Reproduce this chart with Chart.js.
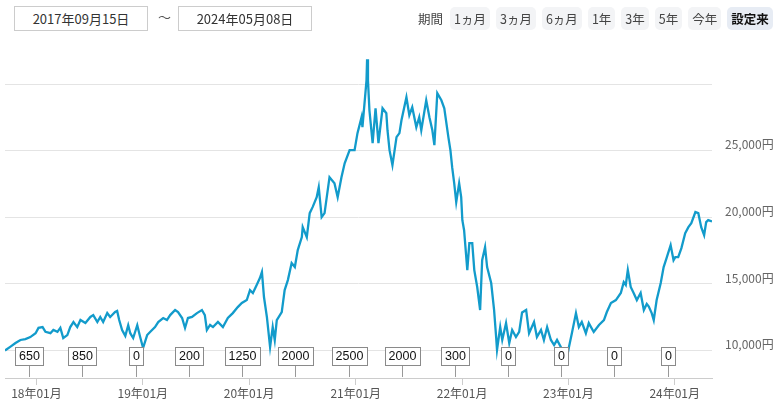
<!DOCTYPE html>
<html lang="ja">
<head>
<meta charset="utf-8">
<script src="https://cdn.jsdelivr.net/npm/chart.js@4.4.1/dist/chart.umd.min.js"></script>
<style>
  body { margin: 0; background: #fff; font-family: "Noto Sans CJK JP", "Noto Sans", sans-serif; }
  #wrap { position: relative; width: 782px; height: 403px; overflow: hidden; }
  #grafico { position: absolute; left: 0; top: 0; }
  .caixa {
    position: absolute; top: 6px; height: 23px; width: 132px;
    border: 1px solid #ccc; color: #333; font-size: 13px;
    line-height: 23px; text-align: center; background: #fff;
  }
  .til { position: absolute; left: 158px; top: 7px; font-size: 13px; color: #555; }
  #periodos {
    position: absolute; left: 418px; top: 7px; height: 23px; white-space: nowrap;
    display: flex; align-items: center; gap: 6px; font-size: 12.5px; color: #444;
  }
  #periodos span {
    flex: 0 0 auto; white-space: nowrap; height: 23px; line-height: 23px;
    padding: 0 4px; border-radius: 5px; background: #f3f4f6;
  }
  #periodos span.rotulo { background: none; padding: 0; margin-right: 1px; }
  #periodos span.ativo { background: #e7ecf4; font-weight: bold; color: #111; }
</style>
</head>
<body>
<div id="wrap">
  <canvas id="grafico" width="782" height="403"></canvas>
  <div class="caixa" style="left:14px">2017年09月15日</div>
  <div class="til">～</div>
  <div class="caixa" style="left:178px">2024年05月08日</div>
  <div id="periodos">
    <span class="rotulo">期間</span>
    <span>1ヵ月</span><span>3ヵ月</span><span>6ヵ月</span>
    <span>1年</span><span>3年</span><span>5年</span><span>今年</span>
    <span class="ativo">設定来</span>
  </div>
</div>
<script>
// 基準価額 (datas e valores)
const datas = [
  "2017-09-15","2017-10-04","2017-10-21","2017-11-07","2017-11-24","2017-12-11","2017-12-29",
  "2018-01-08","2018-01-22","2018-02-01","2018-02-18","2018-02-28","2018-03-14","2018-03-24",
  "2018-04-03","2018-04-17","2018-04-27","2018-05-08","2018-05-21","2018-06-01","2018-06-18",
  "2018-07-05","2018-07-15","2018-07-29","2018-08-08","2018-08-18","2018-09-01","2018-09-11",
  "2018-09-28","2018-10-05","2018-10-12","2018-10-22","2018-11-02","2018-11-12","2018-11-19",
  "2018-11-29","2018-12-13","2018-12-23","2019-01-02","2019-01-16","2019-01-26","2019-02-12",
  "2019-02-23","2019-03-12","2019-03-25","2019-04-05","2019-04-22","2019-05-02","2019-05-16",
  "2019-05-26","2019-06-05","2019-06-19","2019-07-06","2019-07-23","2019-08-02","2019-08-09",
  "2019-08-20","2019-08-30","2019-09-16","2019-10-03","2019-10-20","2019-11-06","2019-11-23",
  "2019-12-07","2019-12-24","2020-01-04","2020-01-14","2020-01-27","2020-02-07","2020-02-14",
  "2020-02-21","2020-03-02","2020-03-13","2020-03-22","2020-03-29","2020-04-05","2020-04-22",
  "2020-05-02","2020-05-13","2020-05-26","2020-06-06","2020-06-16","2020-06-30","2020-07-03",
  "2020-07-17","2020-07-27","2020-08-06","2020-08-20","2020-08-27","2020-09-06","2020-09-16",
  "2020-10-03","2020-10-20","2020-10-31","2020-11-13","2020-11-24","2020-12-11","2020-12-28",
  "2021-01-07","2021-01-21","2021-01-24","2021-02-07","2021-02-09","2021-02-12","2021-02-17",
  "2021-02-28","2021-03-10","2021-03-20","2021-04-03","2021-04-16","2021-04-20","2021-04-27",
  "2021-05-07","2021-05-21","2021-05-31","2021-06-07","2021-06-24","2021-07-04","2021-07-14",
  "2021-07-28","2021-08-07","2021-08-14","2021-08-31","2021-09-11","2021-09-21","2021-09-28",
  "2021-10-08","2021-10-22","2021-11-01","2021-11-15","2021-11-22","2021-11-28","2021-12-05",
  "2021-12-12","2021-12-22","2021-12-29","2022-01-02","2022-01-08","2022-01-19","2022-01-26",
  "2022-02-05","2022-02-12","2022-02-22","2022-03-04","2022-03-11","2022-03-21","2022-03-28",
  "2022-04-11","2022-04-21","2022-04-28","2022-05-01","2022-05-12","2022-05-19","2022-06-01",
  "2022-06-12","2022-06-22","2022-07-05","2022-07-16","2022-07-26","2022-08-09","2022-08-19",
  "2022-09-05","2022-09-15","2022-09-29","2022-10-09","2022-10-20","2022-11-02","2022-11-13",
  "2022-11-23","2022-12-06","2022-12-24","2023-01-03","2023-01-13","2023-01-27","2023-02-06",
  "2023-02-16","2023-03-02","2023-03-12","2023-03-29","2023-04-16","2023-05-03","2023-05-13",
  "2023-05-27","2023-06-13","2023-06-30","2023-07-10","2023-07-17","2023-07-24","2023-08-03",
  "2023-08-13","2023-08-24","2023-09-06","2023-09-17","2023-09-27","2023-10-04","2023-10-14",
  "2023-10-21","2023-10-31","2023-11-14","2023-11-24","2023-12-04","2023-12-18","2023-12-28",
  "2024-01-03","2024-01-13","2024-01-24","2024-02-06","2024-02-17","2024-02-27","2024-03-12",
  "2024-03-22","2024-04-01","2024-04-11","2024-04-18","2024-04-25","2024-05-08"
];

const valores = [
  10000,10290,10560,10790,10860,11010,11300,
  11700,11760,11400,11300,11540,11400,11700,
  10940,11160,11760,12140,11760,12290,12060,
  12520,12660,12140,12520,12140,12810,12520,
  12890,12970,12290,11540,11100,11900,11300,
  10940,11900,11010,10190,11160,11390,11760,
  12140,12440,12290,12660,13040,12890,12440,
  11690,12440,12520,12810,13040,12660,11540,
  11920,11760,12140,11760,12440,12810,13260,
  13570,13790,14540,14320,14920,15440,15900,
  14020,12520,10260,11760,10790,12290,12890,
  14540,15290,16570,16270,17540,18520,19270,
  18520,20320,20770,21520,22270,20020,20320,
  23020,22570,21520,23020,24070,25050,25050,
  26330,27530,26780,30300,31880,30300,28050,
  25580,28200,25580,28200,27830,26550,25050,
  23920,26030,26330,27300,29030,27680,28280,
  26780,27530,26550,28800,27530,26550,25430,
  29330,28800,28200,26030,25050,23770,22570,
  21150,22570,21520,19790,19040,16040,18070,
  18070,16040,14770,13040,16790,17770,16270,
  15070,13040,11010,10040,11760,10790,12060,
  10560,11540,11010,11400,12850,13040,11300,
  12140,11010,11540,10790,11760,10790,10410,
  10790,10260,9140,10260,11300,12810,11760,
  12140,11300,12060,11390,11920,12290,12890,
  13570,13790,14320,15140,14920,16040,14770,
  14320,13790,14320,13040,13500,13300,12810,
  12290,13790,15070,16270,16940,17920,16790,
  17020,17020,17690,18820,19270,19570,20400,
  20320,19270,18670,19650,19800,19700
];

// 分配金
const datasDividendo = [
  "2017-12-08","2018-06-08","2018-12-10","2019-06-10","2019-12-09","2020-06-08","2020-12-08",
  "2021-06-08","2021-12-08","2022-06-08","2022-12-08","2023-06-08","2023-12-08"
];
const valoresDividendo = [650, 850, 0, 200, 1250, 2000, 2500, 2000, 300, 0, 0, 0, 0];

// eixo x
const datasTicks = ["2018-01-01","2019-01-01","2020-01-01","2021-01-01","2022-01-01","2023-01-01","2024-01-01"];
const rotulosTicks = ["18年01月","19年01月","20年01月","21年01月","22年01月","23年01月","24年01月"];

// eixo y
const ticksY = [10000, 15000, 20000, 25000, 30000];
const rotulosY = ["10,000円", "15,000円", "20,000円", "25,000円", ""];

const ms = d => Date.parse(d);

const pontos = datas.map(function(d, i) {
    return { x: ms(d), y: valores[i] };
});

const pluginDividendo = {
    id: "dividendo",
    afterDatasetsDraw(chart) {
        const ctx = chart.ctx;
        const xs = chart.scales.x;
        const base = chart.chartArea.bottom;
        ctx.save();
        ctx.font = "12.5px 'Liberation Sans', Arial, sans-serif";
        ctx.textAlign = "center";
        ctx.textBaseline = "middle";
        datasDividendo.forEach(function(d, i) {
            const x = Math.round(xs.getPixelForValue(ms(d))) + 0.5;
            const texto = String(valoresDividendo[i]);
            const w = Math.round(ctx.measureText(texto).width) + 8;
            const topo = base - 31;
            const h = 19;
            // haste
            ctx.strokeStyle = "#999";
            ctx.lineWidth = 1;
            ctx.beginPath();
            ctx.moveTo(x, topo + h);
            ctx.lineTo(x, base - 1);
            ctx.stroke();
            // caixa
            ctx.fillStyle = "#fff";
            ctx.fillRect(Math.round(x - w / 2), topo, w, h);
            ctx.strokeStyle = "#8a8a8a";
            ctx.strokeRect(Math.round(x - w / 2) + 0.5, topo + 0.5, w - 1, h - 1);
            ctx.fillStyle = "#111";
            ctx.fillText(texto, x, topo + h / 2 + 0.5);
        });
        ctx.restore();
    }
};

new Chart(document.getElementById("grafico"), {
    type: "line",
    data: {
        datasets: [{
            label: "基準価額",
            data: pontos,
            borderColor: "#129bcb",
            borderWidth: 2.3,
            pointRadius: 0,
            tension: 0,
            fill: false
        }]
    },
    options: {
        responsive: false,
        animation: false,
        layout: { padding: { left: 5, top: 45, right: 0, bottom: 0 } },
        plugins: {
            legend: { display: false },
            tooltip: { enabled: false }
        },
        scales: {
            x: {
                type: "linear",
                min: ms("2017-09-15"),
                max: ms("2024-05-08"),
                afterBuildTicks: function(scale) {
                    scale.ticks = datasTicks.map(d => ({ value: ms(d) }));
                },
                afterFit: function(scale) { scale.height = 25; },
                grid: {
                    drawOnChartArea: false,
                    drawTicks: true,
                    tickLength: 7,
                    color: "#cccccc"
                },
                border: { display: true, color: "#cccccc" },
                ticks: {
                    autoSkip: false,
                    maxRotation: 0,
                    padding: 1,
                    color: "#555",
                    font: { size: 12, family: "'Noto Sans CJK JP', sans-serif" },
                    callback: function(v) {
                        const i = datasTicks.findIndex(d => ms(d) === v);
                        return i >= 0 ? rotulosTicks[i] : "";
                    }
                }
            },
            y: {
                position: "right",
                min: 7934,
                max: 32953,
                afterBuildTicks: function(scale) {
                    scale.ticks = ticksY.map(v => ({ value: v }));
                },
                afterFit: function(scale) { scale.width = 70; },
                grid: { color: "#e4e4e4", drawTicks: false },
                border: { display: false },
                ticks: {
                    padding: 13,
                    labelOffset: -6,
                    color: "#666",
                    font: { size: 12, family: "'Noto Sans CJK JP', sans-serif" },
                    callback: function(v) {
                        const i = ticksY.indexOf(v);
                        return i >= 0 ? rotulosY[i] : "";
                    }
                }
            }
        }
    },
    plugins: [pluginDividendo]
});
</script>
</body>
</html>
